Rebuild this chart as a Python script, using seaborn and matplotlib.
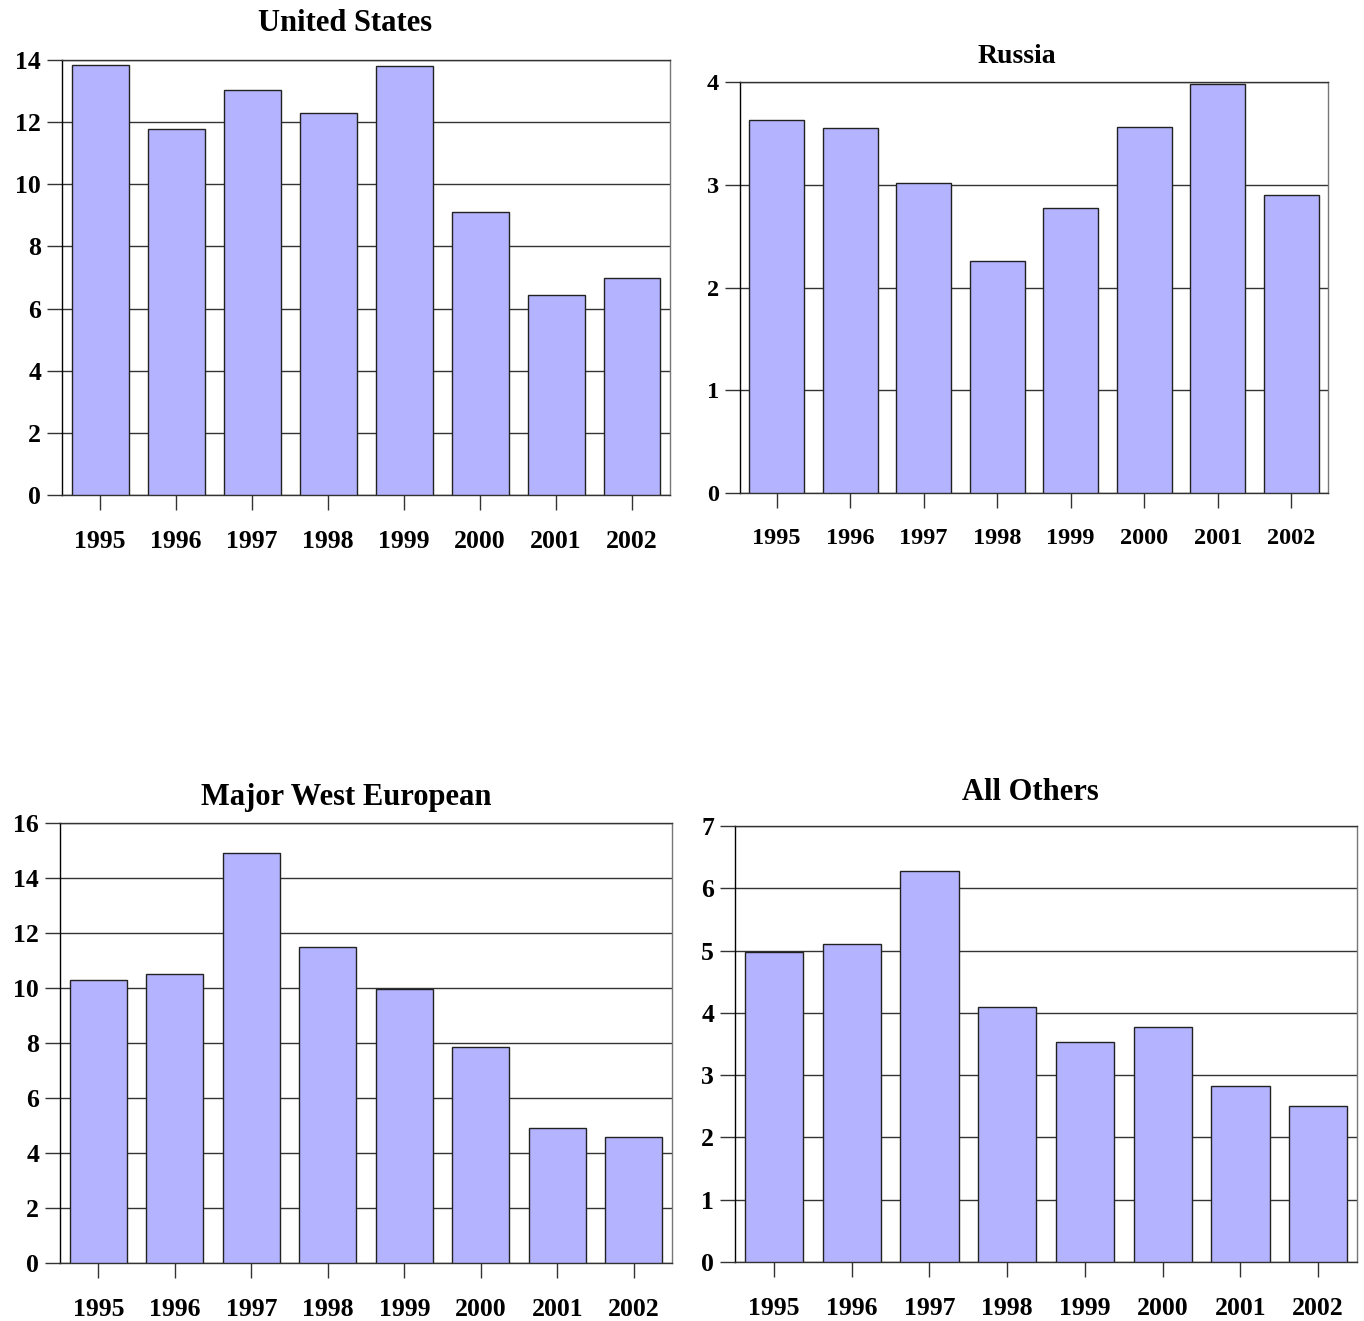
import matplotlib
matplotlib.use('Agg')
import matplotlib.pyplot as plt
import seaborn as sns
import pandas as pd

sns.set_style('white')
plt.rcParams['font.family'] = ['Liberation Serif', 'DejaVu Serif']
plt.rcParams['font.weight'] = 'bold'
plt.rcParams['text.color'] = 'black'
plt.rcParams['xtick.color'] = 'black'
plt.rcParams['ytick.color'] = 'black'

years = ['1995', '1996', '1997', '1998', '1999', '2000', '2001', '2002']
us_vals = [13.84, 11.78, 13.03, 12.29, 13.82, 9.11, 6.44, 6.98]
russia_vals = [3.63, 3.55, 3.02, 2.26, 2.77, 3.56, 3.98, 2.90]
west_eu_vals = [10.29, 10.51, 14.91, 11.49, 9.96, 7.85, 4.91, 4.58]
others_vals = [4.98, 5.10, 6.28, 4.09, 3.53, 3.77, 2.83, 2.50]

# title, values, ymax, step, axes rect, title size, tick size, title pad, title x
panels = [
    ('United States', us_vals, 14, 2, [0.0455, 0.6253, 0.4457, 0.3293], 22, 18.5, 21, 0.465),
    ('Russia', russia_vals, 4, 1, [0.5425, 0.6268, 0.4311, 0.3111], 20, 17.5, 14, 0.471),
    ('Major West European', west_eu_vals, 16, 2, [0.0440, 0.0439, 0.4487, 0.3331], 22, 18.5, 13, 0.467),
    ('All Others', others_vals, 7, 1, [0.5389, 0.0447, 0.4560, 0.3300], 22, 18.5, 19, 0.474),
]

bar_color = '#b3b3ff'

fig = plt.figure(figsize=(13.64, 13.21), dpi=100)

for title, vals, ymax, step, pos, tsize, ksize, tpad, tx in panels:
    ax = fig.add_axes(pos)
    df = pd.DataFrame({'year': years, 'value': vals})
    sns.barplot(data=df, x='year', y='value', color=bar_color, saturation=1,
                edgecolor='#222222', linewidth=1, width=0.75, ax=ax, zorder=3)
    ax.set_xlim(-0.5, len(years) - 0.5)
    ax.set_ylim(0, ymax)
    ax.set_yticks(range(0, ymax + 1, step))
    ax.yaxis.grid(True, color='#333333', linewidth=1)
    ax.set_axisbelow(True)
    ax.set_xlabel('')
    ax.set_ylabel('')
    ax.set_title(title, fontsize=tsize, fontweight='bold', pad=tpad, x=tx, color='black')
    ax.tick_params(axis='y', length=11, width=1, color='#333333', labelcolor='black',
                   labelsize=ksize, pad=4)
    ax.tick_params(axis='x', length=11, width=1, color='#333333', labelcolor='black',
                   labelsize=ksize, pad=14)
    ax.tick_params(left=True, bottom=True)
    for lab in ax.get_xticklabels() + ax.get_yticklabels():
        lab.set_fontweight('bold')
    ax.spines['left'].set_color('black')
    ax.spines['left'].set_linewidth(1)
    ax.spines['bottom'].set_color('#333333')
    ax.spines['bottom'].set_linewidth(1)
    ax.spines['top'].set_color('#333333')
    ax.spines['top'].set_linewidth(1)
    ax.spines['right'].set_color('#777777')
    ax.spines['right'].set_linewidth(1)

fig.savefig('out.png', dpi=100)
